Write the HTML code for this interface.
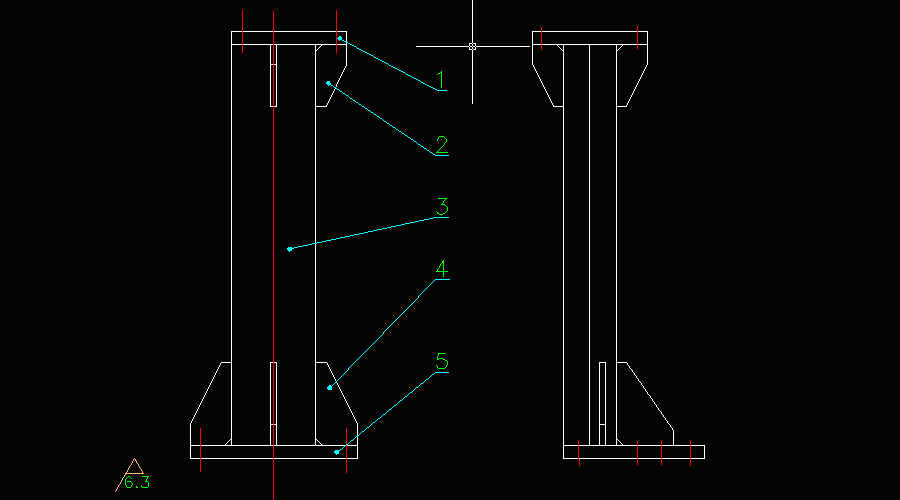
<!DOCTYPE html>
<html><head><meta charset="utf-8"><title>CAD drawing</title>
<style>html,body{margin:0;padding:0;background:#040405;width:900px;height:500px;overflow:hidden;font-family:"Liberation Sans",sans-serif}svg{display:block}</style>
</head><body>
<svg width="900" height="500" viewBox="0 0 900 500" shape-rendering="crispEdges"><rect width="900" height="500" fill="#040405"/><path fill="#ffffff" d="M472 0h1v43h-1zM231 31h11v1h-11zM243 31h30v1h-30zM274 31h62v1h-62zM337 31h10v1h-10zM532 31h9v1h-9zM542 31h95v1h-95zM638 31h10v1h-10zM231 32h1v12h-1zM346 32h1v10h-1zM532 32h1v12h-1zM647 32h1v12h-1zM346 43h1v1h-1zM469 43h3v1h-3zM473 43h3v1h-3zM231 44h11v1h-11zM243 44h30v1h-30zM274 44h62v1h-62zM337 44h10v1h-10zM469 44h1v2h-1zM472 44h1v2h-1zM475 44h1v2h-1zM532 44h9v1h-9zM542 44h95v1h-95zM638 44h10v1h-10zM231 45h1v317h-1zM270 45h1v19h-1zM276 45h1v19h-1zM315 45h1v5h-1zM321 45h1v1h-1zM346 45h1v21h-1zM532 45h1v20h-1zM557 45h1v1h-1zM563 45h1v5h-1zM589 45h1v400h-1zM616 45h1v5h-1zM622 45h1v1h-1zM647 45h1v20h-1zM320 46h1v1h-1zM416 46h53v1h-53zM470 46h2v1h-2zM473 46h2v1h-2zM476 46h54v1h-54zM558 46h1v1h-1zM621 46h1v1h-1zM319 47h1v1h-1zM469 47h1v2h-1zM472 47h1v2h-1zM475 47h1v2h-1zM559 47h1v1h-1zM620 47h1v1h-1zM318 48h1v1h-1zM560 48h1v1h-1zM619 48h1v1h-1zM317 49h1v1h-1zM469 49h3v1h-3zM473 49h3v1h-3zM561 49h1v1h-1zM618 49h1v1h-1zM315 50h2v1h-2zM472 50h1v54h-1zM562 50h2v1h-2zM616 50h2v1h-2zM315 51h1v55h-1zM563 51h1v55h-1zM616 51h1v55h-1zM270 64h3v1h-3zM274 64h3v1h-3zM270 65h1v41h-1zM276 65h1v41h-1zM533 65h1v2h-1zM646 65h1v2h-1zM345 66h1v2h-1zM534 67h1v2h-1zM645 67h1v2h-1zM344 68h1v2h-1zM535 69h1v2h-1zM644 69h1v2h-1zM343 70h1v2h-1zM536 71h1v2h-1zM643 71h1v2h-1zM342 72h1v2h-1zM537 73h1v2h-1zM642 73h1v2h-1zM341 74h1v2h-1zM538 75h1v2h-1zM641 75h1v2h-1zM340 76h1v2h-1zM539 77h1v2h-1zM640 77h1v2h-1zM339 78h1v2h-1zM540 79h1v2h-1zM639 79h1v2h-1zM338 80h1v2h-1zM541 81h1v2h-1zM638 81h1v2h-1zM337 82h1v2h-1zM542 83h1v2h-1zM637 83h1v2h-1zM336 84h1v3h-1zM543 85h1v2h-1zM636 85h1v2h-1zM544 87h1v2h-1zM635 87h1v2h-1zM335 88h1v1h-1zM334 89h1v2h-1zM545 89h1v2h-1zM634 89h1v2h-1zM333 91h1v2h-1zM546 91h1v2h-1zM633 91h1v2h-1zM332 93h1v2h-1zM547 93h1v2h-1zM632 93h1v2h-1zM331 95h1v2h-1zM548 95h1v2h-1zM631 95h1v2h-1zM330 97h1v2h-1zM549 97h1v2h-1zM630 97h1v2h-1zM329 99h1v2h-1zM550 99h1v2h-1zM629 99h1v2h-1zM328 101h1v2h-1zM551 101h1v2h-1zM628 101h1v2h-1zM327 103h1v2h-1zM552 103h1v2h-1zM627 103h1v2h-1zM326 105h1v1h-1zM553 105h1v1h-1zM626 105h1v1h-1zM270 106h3v1h-3zM274 106h3v1h-3zM315 106h12v1h-12zM553 106h11v1h-11zM616 106h11v1h-11zM315 107h1v136h-1zM563 107h1v338h-1zM616 107h1v255h-1zM315 244h1v118h-1zM221 362h11v1h-11zM270 362h3v1h-3zM274 362h3v1h-3zM315 362h12v1h-12zM599 362h7v1h-7zM616 362h11v1h-11zM220 363h1v2h-1zM231 363h1v76h-1zM270 363h1v61h-1zM276 363h1v61h-1zM315 363h1v76h-1zM327 363h1v2h-1zM599 363h1v61h-1zM605 363h1v61h-1zM616 363h1v76h-1zM627 363h1v2h-1zM219 365h1v2h-1zM328 365h1v2h-1zM628 365h1v1h-1zM629 366h1v2h-1zM218 367h1v2h-1zM329 367h1v2h-1zM630 368h1v1h-1zM217 369h1v2h-1zM330 369h1v2h-1zM631 369h1v1h-1zM632 370h1v2h-1zM216 371h1v2h-1zM331 371h1v2h-1zM633 372h1v1h-1zM215 373h1v2h-1zM332 373h1v2h-1zM634 373h1v2h-1zM214 375h1v2h-1zM333 375h1v2h-1zM635 375h1v1h-1zM636 376h1v2h-1zM213 377h1v2h-1zM334 377h1v2h-1zM637 378h1v1h-1zM212 379h1v2h-1zM335 379h1v2h-1zM638 379h1v2h-1zM211 381h1v2h-1zM639 381h1v1h-1zM336 382h1v1h-1zM640 382h1v1h-1zM210 383h1v2h-1zM337 383h1v2h-1zM641 383h1v2h-1zM209 385h1v2h-1zM338 385h1v2h-1zM642 385h1v1h-1zM643 386h1v2h-1zM208 387h1v2h-1zM339 387h1v2h-1zM644 388h1v1h-1zM207 389h1v2h-1zM340 389h1v2h-1zM645 389h1v2h-1zM206 391h1v2h-1zM341 391h1v2h-1zM646 391h1v1h-1zM647 392h1v2h-1zM205 393h1v2h-1zM342 393h1v2h-1zM648 394h1v1h-1zM204 395h1v2h-1zM343 395h1v2h-1zM649 395h1v1h-1zM650 396h1v2h-1zM203 397h1v2h-1zM344 397h1v2h-1zM651 398h1v1h-1zM202 399h1v2h-1zM345 399h1v2h-1zM652 399h1v2h-1zM201 401h1v2h-1zM346 401h1v2h-1zM653 401h1v1h-1zM654 402h1v2h-1zM200 403h1v2h-1zM347 403h1v2h-1zM655 404h1v1h-1zM199 405h1v2h-1zM348 405h1v2h-1zM656 405h1v2h-1zM198 407h1v2h-1zM349 407h1v2h-1zM657 407h1v1h-1zM658 408h1v2h-1zM197 409h1v2h-1zM350 409h1v2h-1zM659 410h1v1h-1zM196 411h1v2h-1zM351 411h1v2h-1zM660 411h1v1h-1zM661 412h1v2h-1zM195 413h1v2h-1zM352 413h1v2h-1zM662 414h1v1h-1zM194 415h1v2h-1zM353 415h1v2h-1zM663 415h1v2h-1zM193 417h1v2h-1zM354 417h1v2h-1zM664 417h1v1h-1zM665 418h1v2h-1zM192 419h1v2h-1zM355 419h1v2h-1zM666 420h1v1h-1zM191 421h1v2h-1zM356 421h1v2h-1zM667 421h1v2h-1zM190 423h1v22h-1zM357 423h1v13h-1zM668 423h1v1h-1zM270 424h3v1h-3zM274 424h3v1h-3zM599 424h7v1h-7zM669 424h1v1h-1zM270 425h1v20h-1zM276 425h1v20h-1zM599 425h1v20h-1zM605 425h1v20h-1zM670 425h1v2h-1zM671 427h1v1h-1zM672 428h1v2h-1zM673 430h1v15h-1zM357 437h1v8h-1zM230 439h2v1h-2zM315 439h2v1h-2zM616 439h2v1h-2zM229 440h1v1h-1zM231 440h1v5h-1zM315 440h1v5h-1zM317 440h1v1h-1zM616 440h1v5h-1zM618 440h1v1h-1zM228 441h1v1h-1zM318 441h1v1h-1zM619 441h1v1h-1zM227 442h1v1h-1zM319 442h1v1h-1zM620 442h1v1h-1zM226 443h1v1h-1zM320 443h1v1h-1zM621 443h1v1h-1zM225 444h1v1h-1zM321 444h1v1h-1zM622 444h1v1h-1zM190 445h10v1h-10zM201 445h72v1h-72zM274 445h71v1h-71zM347 445h11v1h-11zM563 445h15v1h-15zM579 445h58v1h-58zM638 445h23v1h-23zM662 445h28v1h-28zM691 445h14v1h-14zM190 446h1v12h-1zM357 446h1v12h-1zM563 446h1v12h-1zM704 446h1v12h-1zM190 458h10v1h-10zM201 458h72v1h-72zM274 458h72v1h-72zM347 458h11v1h-11zM563 458h15v1h-15zM579 458h58v1h-58zM638 458h23v1h-23zM662 458h28v1h-28zM691 458h14v1h-14z"/><path fill="#ff0000" d="M242 10h1v43h-1zM336 10h1v43h-1zM273 11h1v489h-1zM637 26h1v23h-1zM541 27h1v23h-1zM200 428h1v44h-1zM346 428h1v16h-1zM578 440h1v19h-1zM661 440h1v25h-1zM690 440h1v26h-1zM637 441h1v24h-1zM346 445h1v28h-1zM579 459h1v7h-1z"/><path fill="#00ffff" d="M339 36h2v1h-2zM338 37h4v1h-4zM337 38h5v1h-5zM338 39h4v1h-4zM339 40h1v1h-1zM342 40h2v1h-2zM344 41h2v1h-2zM346 42h2v1h-2zM348 43h2v1h-2zM350 44h2v1h-2zM352 45h2v1h-2zM354 46h2v1h-2zM356 47h1v1h-1zM357 48h2v1h-2zM359 49h2v1h-2zM361 50h2v1h-2zM363 51h2v1h-2zM365 52h2v1h-2zM367 53h2v1h-2zM369 54h2v1h-2zM371 55h2v1h-2zM373 56h1v1h-1zM374 57h2v1h-2zM376 58h2v1h-2zM378 59h2v1h-2zM380 60h2v1h-2zM382 61h2v1h-2zM384 62h2v1h-2zM386 63h2v1h-2zM388 64h1v1h-1zM389 65h2v1h-2zM391 66h2v1h-2zM393 67h2v1h-2zM395 68h2v1h-2zM397 69h2v1h-2zM399 70h2v1h-2zM401 71h2v1h-2zM403 72h2v1h-2zM405 73h1v1h-1zM406 74h2v1h-2zM408 75h2v1h-2zM410 76h2v1h-2zM412 77h2v1h-2zM414 78h2v1h-2zM416 79h2v1h-2zM418 80h2v1h-2zM327 81h3v1h-3zM420 81h1v1h-1zM326 82h4v1h-4zM421 82h2v1h-2zM326 83h5v1h-5zM423 83h2v1h-2zM327 84h4v1h-4zM425 84h2v1h-2zM328 85h1v1h-1zM331 85h2v1h-2zM427 85h2v1h-2zM333 86h1v1h-1zM429 86h2v1h-2zM334 87h2v1h-2zM431 87h2v1h-2zM336 88h1v1h-1zM433 88h2v1h-2zM337 89h2v1h-2zM435 89h2v1h-2zM339 90h1v1h-1zM437 90h10v1h-10zM340 91h2v1h-2zM342 92h1v1h-1zM343 93h2v1h-2zM345 94h1v1h-1zM346 95h2v1h-2zM348 96h1v1h-1zM349 97h1v1h-1zM350 98h2v1h-2zM352 99h1v1h-1zM353 100h2v1h-2zM355 101h1v1h-1zM356 102h2v1h-2zM358 103h1v1h-1zM359 104h2v1h-2zM361 105h1v1h-1zM362 106h2v1h-2zM364 107h1v1h-1zM365 108h2v1h-2zM367 109h1v1h-1zM368 110h2v1h-2zM370 111h1v1h-1zM371 112h2v1h-2zM373 113h1v1h-1zM374 114h2v1h-2zM376 115h1v1h-1zM377 116h2v1h-2zM379 117h1v1h-1zM380 118h2v1h-2zM382 119h1v1h-1zM383 120h1v1h-1zM384 121h2v1h-2zM386 122h1v1h-1zM387 123h2v1h-2zM389 124h1v1h-1zM390 125h2v1h-2zM392 126h1v1h-1zM393 127h2v1h-2zM395 128h1v1h-1zM396 129h2v1h-2zM398 130h1v1h-1zM399 131h2v1h-2zM401 132h1v1h-1zM402 133h2v1h-2zM404 134h1v1h-1zM405 135h2v1h-2zM407 136h1v1h-1zM408 137h2v1h-2zM410 138h1v1h-1zM411 139h2v1h-2zM413 140h1v1h-1zM414 141h2v1h-2zM416 142h1v1h-1zM417 143h1v1h-1zM418 144h2v1h-2zM420 145h1v1h-1zM421 146h2v1h-2zM423 147h1v1h-1zM424 148h2v1h-2zM426 149h1v1h-1zM427 150h2v1h-2zM429 151h1v1h-1zM430 152h2v1h-2zM432 153h1v1h-1zM433 154h2v1h-2zM435 155h14v1h-14zM433 217h16v1h-16zM429 218h4v1h-4zM424 219h5v1h-5zM419 220h5v1h-5zM415 221h4v1h-4zM410 222h5v1h-5zM405 223h5v1h-5zM401 224h4v1h-4zM396 225h5v1h-5zM391 226h5v1h-5zM387 227h4v1h-4zM382 228h5v1h-5zM377 229h5v1h-5zM373 230h4v1h-4zM368 231h5v1h-5zM364 232h4v1h-4zM359 233h5v1h-5zM354 234h5v1h-5zM350 235h4v1h-4zM345 236h5v1h-5zM340 237h5v1h-5zM336 238h4v1h-4zM331 239h5v1h-5zM326 240h5v1h-5zM322 241h4v1h-4zM317 242h5v1h-5zM312 243h5v1h-5zM308 244h4v1h-4zM303 245h5v1h-5zM298 246h5v1h-5zM288 247h4v1h-4zM294 247h4v1h-4zM287 248h7v1h-7zM287 249h5v1h-5zM288 250h4v1h-4zM289 251h1v1h-1zM435 279h15v1h-15zM434 280h1v1h-1zM433 281h1v1h-1zM432 282h1v1h-1zM431 283h1v1h-1zM430 284h1v1h-1zM429 285h1v1h-1zM428 286h1v1h-1zM427 287h1v1h-1zM426 288h1v1h-1zM425 289h1v1h-1zM424 290h1v1h-1zM423 291h1v1h-1zM422 292h1v1h-1zM421 293h1v1h-1zM420 294h1v1h-1zM419 295h1v1h-1zM418 296h1v2h-1zM417 298h1v1h-1zM416 299h1v1h-1zM415 300h1v1h-1zM414 301h1v1h-1zM413 302h1v1h-1zM412 303h1v1h-1zM411 304h1v1h-1zM410 305h1v1h-1zM409 306h1v1h-1zM408 307h1v1h-1zM407 308h1v1h-1zM406 309h1v1h-1zM405 310h1v1h-1zM404 311h1v1h-1zM403 312h1v1h-1zM402 313h1v1h-1zM401 314h1v1h-1zM400 315h1v1h-1zM399 316h1v1h-1zM398 317h1v1h-1zM397 318h1v1h-1zM396 319h1v1h-1zM395 320h1v1h-1zM394 321h1v1h-1zM393 322h1v1h-1zM392 323h1v1h-1zM391 324h1v1h-1zM390 325h1v1h-1zM389 326h1v1h-1zM388 327h1v1h-1zM387 328h1v1h-1zM386 329h1v1h-1zM385 330h1v1h-1zM384 331h1v1h-1zM383 332h1v2h-1zM382 334h1v1h-1zM381 335h1v1h-1zM380 336h1v1h-1zM379 337h1v1h-1zM378 338h1v1h-1zM377 339h1v1h-1zM376 340h1v1h-1zM375 341h1v1h-1zM374 342h1v1h-1zM373 343h1v1h-1zM372 344h1v1h-1zM371 345h1v1h-1zM370 346h1v1h-1zM369 347h1v1h-1zM368 348h1v1h-1zM367 349h1v1h-1zM366 350h1v1h-1zM365 351h1v1h-1zM364 352h1v1h-1zM363 353h1v1h-1zM362 354h1v1h-1zM361 355h1v1h-1zM360 356h1v1h-1zM359 357h1v1h-1zM358 358h1v1h-1zM357 359h1v1h-1zM356 360h1v1h-1zM355 361h1v1h-1zM354 362h1v1h-1zM353 363h1v1h-1zM352 364h1v1h-1zM351 365h1v1h-1zM350 366h1v1h-1zM349 367h1v1h-1zM348 368h1v2h-1zM347 370h1v1h-1zM346 371h1v1h-1zM345 372h1v1h-1zM435 372h14v1h-14zM344 373h1v1h-1zM434 373h1v1h-1zM343 374h1v1h-1zM432 374h2v1h-2zM342 375h1v1h-1zM431 375h1v1h-1zM341 376h1v1h-1zM430 376h1v1h-1zM340 377h1v1h-1zM429 377h1v1h-1zM339 378h1v1h-1zM428 378h1v1h-1zM338 379h1v1h-1zM426 379h2v1h-2zM337 380h1v1h-1zM425 380h1v1h-1zM336 381h1v1h-1zM424 381h1v1h-1zM335 382h1v1h-1zM423 382h1v1h-1zM334 383h1v1h-1zM421 383h2v1h-2zM333 384h1v1h-1zM420 384h1v1h-1zM329 385h2v1h-2zM332 385h1v1h-1zM419 385h1v1h-1zM328 386h4v1h-4zM418 386h1v1h-1zM327 387h5v2h-5zM416 387h2v1h-2zM415 388h1v1h-1zM328 389h4v1h-4zM414 389h1v1h-1zM413 390h1v1h-1zM412 391h1v1h-1zM410 392h2v1h-2zM409 393h1v1h-1zM408 394h1v1h-1zM407 395h1v1h-1zM405 396h2v1h-2zM404 397h1v1h-1zM403 398h1v1h-1zM402 399h1v1h-1zM400 400h2v1h-2zM399 401h1v1h-1zM398 402h1v1h-1zM397 403h1v1h-1zM396 404h1v1h-1zM394 405h2v1h-2zM393 406h1v1h-1zM392 407h1v1h-1zM391 408h1v1h-1zM389 409h2v1h-2zM388 410h1v1h-1zM387 411h1v1h-1zM386 412h1v1h-1zM385 413h1v1h-1zM383 414h2v1h-2zM382 415h1v1h-1zM381 416h1v1h-1zM380 417h1v1h-1zM378 418h2v1h-2zM377 419h1v1h-1zM376 420h1v1h-1zM375 421h1v1h-1zM373 422h2v1h-2zM372 423h1v1h-1zM371 424h1v1h-1zM370 425h1v1h-1zM369 426h1v1h-1zM367 427h2v1h-2zM366 428h1v1h-1zM365 429h1v1h-1zM364 430h1v1h-1zM362 431h2v1h-2zM361 432h1v1h-1zM360 433h1v1h-1zM359 434h1v1h-1zM358 435h1v1h-1zM356 436h2v1h-2zM355 437h1v1h-1zM354 438h1v1h-1zM353 439h1v1h-1zM351 440h2v1h-2zM350 441h1v1h-1zM349 442h1v1h-1zM348 443h1v1h-1zM346 444h2v1h-2zM345 445h1v1h-1zM344 446h1v1h-1zM343 447h1v1h-1zM342 448h1v1h-1zM340 449h2v1h-2zM335 450h5v1h-5zM334 451h5v2h-5zM335 453h4v1h-4zM336 454h1v1h-1z"/><path fill="#00ff00" d="M441 71h1v1h-1zM440 72h2v1h-2zM438 73h2v1h-2zM441 73h1v15h-1zM437 74h1v1h-1zM439 136h5v1h-5zM438 137h1v2h-1zM444 137h1v1h-1zM445 138h1v1h-1zM437 139h1v2h-1zM446 139h1v3h-1zM445 142h1v1h-1zM444 143h1v2h-1zM443 145h1v1h-1zM442 146h1v1h-1zM441 147h1v1h-1zM440 148h1v1h-1zM439 149h1v1h-1zM438 150h1v1h-1zM437 151h1v1h-1zM436 152h12v1h-12zM438 198h9v1h-9zM445 199h1v1h-1zM444 200h1v1h-1zM443 201h1v2h-1zM442 203h1v1h-1zM441 204h4v1h-4zM445 205h1v1h-1zM446 206h1v1h-1zM447 207h1v4h-1zM436 211h1v1h-1zM446 211h1v1h-1zM437 212h1v1h-1zM445 212h1v1h-1zM437 213h2v1h-2zM443 213h2v1h-2zM439 214h4v1h-4zM443 260h1v1h-1zM442 261h2v2h-2zM441 263h1v1h-1zM443 263h1v8h-1zM440 264h1v2h-1zM439 266h1v2h-1zM438 268h1v1h-1zM437 269h1v2h-1zM436 271h12v1h-12zM443 272h1v5h-1zM438 353h8v1h-8zM438 354h1v2h-1zM437 356h1v3h-1zM439 358h4v1h-4zM437 359h2v1h-2zM443 359h2v1h-2zM445 360h2v1h-2zM447 361h1v4h-1zM436 365h1v1h-1zM446 365h1v2h-1zM437 366h1v2h-1zM445 367h1v1h-1zM438 368h7v1h-7zM128 476h2v1h-2zM142 476h7v1h-7zM127 477h1v1h-1zM130 477h1v1h-1zM147 477h1v2h-1zM126 478h1v1h-1zM131 478h1v1h-1zM125 479h1v6h-1zM146 479h1v2h-1zM127 481h4v1h-4zM145 481h3v1h-3zM131 482h1v1h-1zM148 482h1v5h-1zM132 483h1v2h-1zM126 485h1v2h-1zM131 485h1v2h-1zM141 485h1v2h-1zM136 486h1v1h-1zM127 487h4v1h-4zM136 487h2v1h-2zM142 487h6v1h-6z"/><path fill="#ffbf7f" d="M134 458h1v1h-1zM133 459h1v2h-1zM135 459h1v2h-1zM132 461h1v2h-1zM136 461h1v2h-1zM131 463h1v2h-1zM137 463h1v1h-1zM138 464h1v2h-1zM130 465h1v1h-1zM129 466h1v2h-1zM139 466h1v2h-1zM128 468h1v2h-1zM140 468h1v1h-1zM141 469h1v2h-1zM127 470h1v2h-1zM142 471h1v2h-1zM126 472h1v1h-1zM125 473h19v1h-19zM125 474h1v1h-1zM124 475h1v2h-1zM123 477h1v1h-1zM122 478h1v2h-1zM121 480h1v2h-1zM120 482h1v2h-1zM119 484h1v1h-1zM118 485h1v2h-1zM117 487h1v2h-1zM116 489h1v2h-1zM115 491h1v1h-1z"/></svg>
</body></html>
